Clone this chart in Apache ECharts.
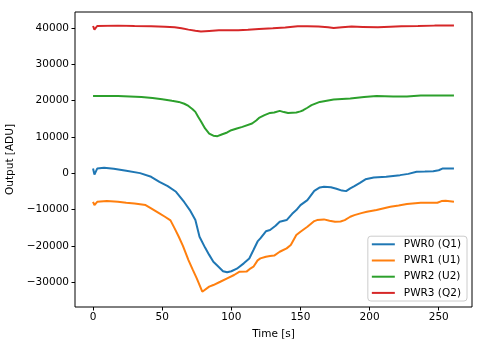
<!DOCTYPE html>
<html>
<head>
<meta charset="utf-8">
<script src="https://cdn.jsdelivr.net/npm/echarts@6/dist/echarts.min.js"></script>
<style>
  html, body { margin: 0; padding: 0; background: #fff; }
  #chart { width: 483px; height: 347px; }
</style>
</head>
<body>
<div id="chart"></div>
<script>
// Detector output per power channel over time
const seriesNames = ['PWR0 (Q1)', 'PWR1 (U1)', 'PWR2 (U2)', 'PWR3 (Q2)'];
const seriesColors = ['#1f77b4', '#ff7f0e', '#2ca02c', '#d62728'];

const pwr0Time = [0, 1, 3, 8, 15, 24, 34, 42, 48, 54, 60, 66, 70, 74, 77, 81, 84, 87, 90, 94, 97, 100, 104, 109, 113, 116, 119, 121, 125, 128, 132, 135, 140, 144, 147, 150, 155, 160, 164, 167, 172, 176, 180, 183, 186, 189, 193, 197, 203, 212, 222, 228, 234, 240, 246, 250, 253, 261];
const pwr0Value = [1250, -400, 1250, 1500, 1200, 650, 0, -1000, -2380, -3570, -5130, -8000, -10170, -12900, -17500, -20500, -22500, -24400, -25500, -27000, -27300, -27000, -26300, -24830, -23500, -21170, -18800, -17970, -16000, -15670, -14500, -13400, -12920, -11200, -10170, -8800, -7420, -4900, -3940, -3760, -3900, -4300, -4800, -4950, -4200, -3570, -2660, -1700, -1180, -1010, -550, -200, 360, 450, 550, 800, 1290, 1250];

const pwr1Time = [0, 1, 3, 10, 18, 24, 30, 38, 42, 48, 52, 56, 59, 62, 65, 69, 72, 75, 79, 80, 84, 87, 92, 97, 102, 106, 111, 114, 116, 119, 121, 125, 128, 131, 135, 140, 143, 147, 150, 155, 160, 162, 167, 171, 175, 179, 182, 186, 189, 194, 198, 205, 215, 221, 227, 237, 249, 252, 255, 261];
const pwr1Value = [-7880, -8800, -7900, -7700, -7880, -8150, -8330, -8800, -9710, -11080, -12000, -13000, -15210, -17500, -20000, -23920, -26500, -28950, -32630, -32630, -31250, -30800, -29890, -28960, -28040, -27130, -27100, -26200, -25760, -24000, -23460, -23000, -22820, -22700, -21640, -20700, -19800, -17050, -16130, -14760, -13200, -12920, -12730, -13110, -13380, -13300, -12920, -12000, -11550, -11000, -10640, -10170, -9270, -8900, -8520, -8150, -8150, -7700, -7610, -7880];

const pwr2Time = [0, 1, 3, 18, 35, 43, 50, 57, 62, 66, 69, 72, 74, 76, 78, 81, 84, 87, 90, 93, 97, 100, 104, 108, 115, 118, 120, 124, 128, 131, 135, 138, 141, 147, 150, 152, 155, 158, 164, 174, 186, 196, 205, 217, 227, 237, 249, 261];
const pwr2Value = [21250, 20700, 21250, 21250, 20980, 20700, 20350, 19900, 19600, 19100, 18500, 17600, 16860, 15500, 14300, 12290, 10900, 10300, 10170, 10640, 11200, 11820, 12300, 12730, 13650, 14500, 15200, 15950, 16580, 16700, 17130, 16800, 16580, 16680, 17000, 17320, 18000, 18700, 19600, 20260, 20540, 20980, 21250, 21090, 21090, 21360, 21360, 21360];

const pwr3Time = [0, 1, 3, 18, 30, 42, 52, 59, 64, 69, 74, 78, 84, 91, 105, 112, 120, 130, 139, 148, 155, 163, 170, 174, 180, 187, 195, 206, 215, 223, 235, 247, 261];
const pwr3Value = [40500, 39500, 40500, 40600, 40500, 40420, 40300, 40140, 39850, 39500, 39200, 39000, 39150, 39320, 39320, 39450, 39680, 39850, 40060, 40420, 40400, 40330, 40150, 39960, 40150, 40330, 40250, 40140, 40300, 40420, 40500, 40600, 40600];

const xTicks = [0, 50, 100, 150, 200, 250];
const yTicks = [-30000, -20000, -10000, 0, 10000, 20000, 30000, 40000];

const times = [pwr0Time, pwr1Time, pwr2Time, pwr3Time];
const values = [pwr0Value, pwr1Value, pwr2Value, pwr3Value];

const FONT = 'DejaVu Sans';
const FS = 10.5;
const minus = v => String(v).replace('-', '\u2212');

const chart = echarts.init(document.getElementById('chart'), null, { renderer: 'canvas' });

const series = seriesNames.map((name, i) => ({
  name: name,
  type: 'line',
  data: times[i].map((t, k) => [t, values[i][k]]),
  showSymbol: false,
  symbol: 'none',
  animation: false,
  lineStyle: { color: seriesColors[i], width: 2 },
  itemStyle: { color: seriesColors[i] },
  emphasis: { disabled: true }
}));

chart.setOption({
  animation: false,
  backgroundColor: '#ffffff',
  textStyle: { fontFamily: FONT },
  grid: {
    left: 75, right: 11, top: 12, bottom: 40,
    outerBoundsMode: 'none',
    containLabel: false,
    show: true, borderColor: '#000', borderWidth: 1, backgroundColor: 'transparent'
  },
  legend: {
    orient: 'vertical',
    right: 16, bottom: 46,
    data: seriesNames,
    icon: 'rect',
    itemWidth: 23, itemHeight: 2,
    itemGap: 4,
    padding: [2, 6, 2, 4],
    borderColor: '#cccccc', borderWidth: 1, borderRadius: 3,
    backgroundColor: 'rgba(255,255,255,0.8)',
    textStyle: { fontFamily: FONT, fontSize: FS, color: '#000', lineHeight: 12.2, padding: [0, 0, 0, 4] }
  },
  xAxis: {
    type: 'value',
    min: -13.05, max: 274.05,
    name: 'Time [s]', nameLocation: 'middle', nameGap: 22,
    nameTextStyle: { fontFamily: FONT, fontSize: FS, color: '#000' },
    axisLine: { show: false, onZero: false },
    splitLine: { show: false },
    axisTick: { show: true, inside: false, length: 3.5, lineStyle: { color: '#000', width: 1 }, customValues: xTicks },
    axisLabel: { fontFamily: FONT, fontSize: FS, color: '#000', margin: 5, customValues: xTicks, formatter: minus }
  },
  yAxis: {
    type: 'value',
    min: -36843, max: 44350,
    name: 'Output [ADU]', nameLocation: 'middle', nameGap: 55, nameRotate: 90,
    nameTextStyle: { fontFamily: FONT, fontSize: FS, color: '#000' },
    axisLine: { show: false, onZero: false },
    splitLine: { show: false },
    axisTick: { show: true, inside: false, length: 3.5, lineStyle: { color: '#000', width: 1 }, customValues: yTicks },
    axisLabel: { fontFamily: FONT, fontSize: FS, color: '#000', margin: 6, customValues: yTicks, formatter: minus }
  },
  series: series
});
</script>
</body>
</html>
